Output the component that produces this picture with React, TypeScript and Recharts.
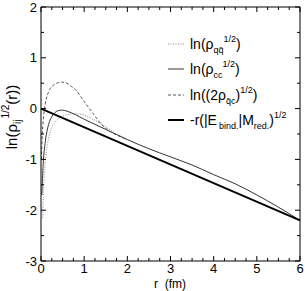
import { LineChart, Line, XAxis, YAxis, ReferenceLine } from 'recharts';

// r (fm) and ln(rho^1/2)
const qqR = [0.04, 0.06, 0.1, 0.15, 0.2, 0.3, 0.4, 0.5, 0.6, 0.8, 1.0, 1.25, 1.5, 1.75, 2.0];
const qqY = [-2.15, -1.6, -1.05, -0.7, -0.5, -0.3, -0.2, -0.15, -0.12, -0.1, -0.13, -0.23, -0.36, -0.5, -0.61];

const ccR = [0.02, 0.05, 0.1, 0.15, 0.2, 0.3, 0.4, 0.5, 0.6, 0.8, 1.0, 1.25, 1.5, 1.75, 2.0, 2.5, 3.0, 3.5, 4.0, 4.5, 5.0, 5.5, 6.0];
const ccY = [-1.7, -1.1, -0.65, -0.4, -0.25, -0.1, -0.04, -0.03, -0.05, -0.12, -0.21, -0.31, -0.41, -0.51, -0.61, -0.79, -0.95, -1.11, -1.3, -1.48, -1.7, -1.94, -2.2];

const qcR = [0.01, 0.03, 0.05, 0.1, 0.15, 0.2, 0.3, 0.4, 0.5, 0.6, 0.7, 0.8, 1.0, 1.2, 1.4, 1.6, 1.8, 2.0];
const qcY = [-1.0, -0.5, -0.25, 0.1, 0.27, 0.37, 0.47, 0.51, 0.52, 0.5, 0.44, 0.37, 0.14, -0.09, -0.31, -0.45, -0.54, -0.61];

const bindR = [0, 6];
const bindY = [0, -2.2];

const xTicks = [0, 0.25, 0.5, 0.75, 1, 1.25, 1.5, 1.75, 2, 2.25, 2.5, 2.75, 3, 3.25, 3.5, 3.75, 4, 4.25, 4.5, 4.75, 5, 5.25, 5.5, 5.75, 6];
const yTicks = [-3, -2.5, -2, -1.5, -1, -0.5, 0, 0.5, 1, 1.5, 2];

const toPoints = (rs: number[], ys: number[]) => rs.map((r, i) => ({ r, y: ys[i] }));

const W = 305;
const H = 291;
const PLOT_LEFT = 41;
const PLOT_RIGHT = 300;
const PLOT_TOP = 7;
const PLOT_BOTTOM = 261;
const FONT = 'Liberation Sans, Arial, sans-serif';

const XTick = (p: any) => {
  const v = p.payload.value;
  const major = Number.isInteger(v);
  const len = major ? 5 : 3;
  return (
    <g>
      <line x1={p.x} x2={p.x} y1={PLOT_BOTTOM} y2={PLOT_BOTTOM - len} stroke="#000" />
      <line x1={p.x} x2={p.x} y1={PLOT_TOP} y2={PLOT_TOP + len} stroke="#000" />
      {major && (
        <text x={p.x} y={273} textAnchor="middle" fontSize={13} fontFamily={FONT} fill="#000">
          {v}
        </text>
      )}
    </g>
  );
};

const YTick = (p: any) => {
  const v = p.payload.value;
  const major = Number.isInteger(v);
  const len = major ? 5 : 3;
  return (
    <g>
      <line x1={PLOT_LEFT} x2={PLOT_LEFT + len} y1={p.y} y2={p.y} stroke="#000" />
      <line x1={PLOT_RIGHT} x2={PLOT_RIGHT - len} y1={p.y} y2={p.y} stroke="#000" />
      {major && (
        <text x={37} y={p.y + 4.5} textAnchor="end" fontSize={13} fontFamily={FONT} fill="#000">
          {v}
        </text>
      )}
    </g>
  );
};

const series = [
  { key: 'qq', pts: toPoints(qqR, qqY), stroke: '#8a8a8a', width: 1, dash: '1 1.5' },
  { key: 'cc', pts: toPoints(ccR, ccY), stroke: '#333', width: 1, dash: undefined },
  { key: 'qc', pts: toPoints(qcR, qcY), stroke: '#555', width: 1, dash: '3 2' },
  { key: 'bind', pts: toPoints(bindR, bindY), stroke: '#000', width: 2, dash: undefined },
];

const legendRows = [44, 69, 95, 120];

export default function App() {
  const sub = { fontSize: 9 };
  return (
    <div style={{ position: 'absolute', left: 0, top: 0, width: W, height: H, background: '#fff' }}>
      <LineChart width={W} height={H} margin={{ top: PLOT_TOP, right: W - PLOT_RIGHT, bottom: 0, left: 0 }}>
        <XAxis
          type="number"
          dataKey="r"
          domain={[0, 6]}
          ticks={xTicks}
          interval={0}
          height={H - PLOT_BOTTOM}
          tickLine={false}
          axisLine={{ stroke: '#000' }}
          tick={<XTick />}
        />
        <YAxis
          type="number"
          dataKey="y"
          domain={[-3, 2]}
          ticks={yTicks}
          interval={0}
          width={PLOT_LEFT}
          tickLine={false}
          axisLine={{ stroke: '#000' }}
          tick={<YTick />}
        />
        <ReferenceLine y={2} stroke="#000" />
        <ReferenceLine x={6} stroke="#000" />
        {series.map((s) => (
          <Line
            key={s.key}
            data={s.pts}
            dataKey="y"
            type="monotone"
            stroke={s.stroke}
            strokeWidth={s.width}
            strokeDasharray={s.dash}
            dot={false}
            isAnimationActive={false}
          />
        ))}
      </LineChart>
      <svg width={W} height={H} style={{ position: 'absolute', left: 0, top: 0, pointerEvents: 'none' }}>
        <g fontFamily={FONT} fill="#000">
          {series.map((s, i) => (
            <line
              key={s.key}
              x1={168}
              x2={184}
              y1={legendRows[i]}
              y2={legendRows[i]}
              stroke={s.stroke}
              strokeWidth={s.width}
              strokeDasharray={s.dash}
            />
          ))}
          <text x={190} y={legendRows[0] + 5} fontSize={14}>
            ln(ρ<tspan {...sub} dy={4}>qq̄</tspan>
            <tspan {...sub} dy={-11}>1/2</tspan>
            <tspan dy={7}>)</tspan>
          </text>
          <text x={190} y={legendRows[1] + 5} fontSize={14}>
            ln(ρ<tspan {...sub} dy={4}>cc</tspan>
            <tspan {...sub} dy={-11}>1/2</tspan>
            <tspan dy={7}>)</tspan>
          </text>
          <text x={190} y={legendRows[2] + 5} fontSize={14}>
            ln((2ρ<tspan {...sub} dy={4}>q̄c</tspan>
            <tspan dy={-4}>)</tspan>
            <tspan {...sub} dy={-7}>1/2</tspan>
            <tspan dy={7}>)</tspan>
          </text>
          <text x={190} y={legendRows[3] + 5} fontSize={14}>
            -r(|E<tspan {...sub} dx={2} dy={4}>bind.</tspan>
            <tspan dy={-4}>|M</tspan>
            <tspan {...sub} dy={4}>red.</tspan>
            <tspan dy={-4}>)</tspan>
            <tspan {...sub} dy={-7}>1/2</tspan>
          </text>
          <text x={170} y={288} fontSize={12} textAnchor="middle" xmlSpace="preserve">
            r  (fm)
          </text>
          <text transform="translate(17,117) rotate(-90)" fontSize={15} textAnchor="middle">
            ln(ρ<tspan fontSize={10} dy={4}>ij</tspan>
            <tspan fontSize={10} dx={1} dy={-12}>1/2</tspan>
            <tspan dy={8}>(r))</tspan>
          </text>
        </g>
      </svg>
    </div>
  );
}
